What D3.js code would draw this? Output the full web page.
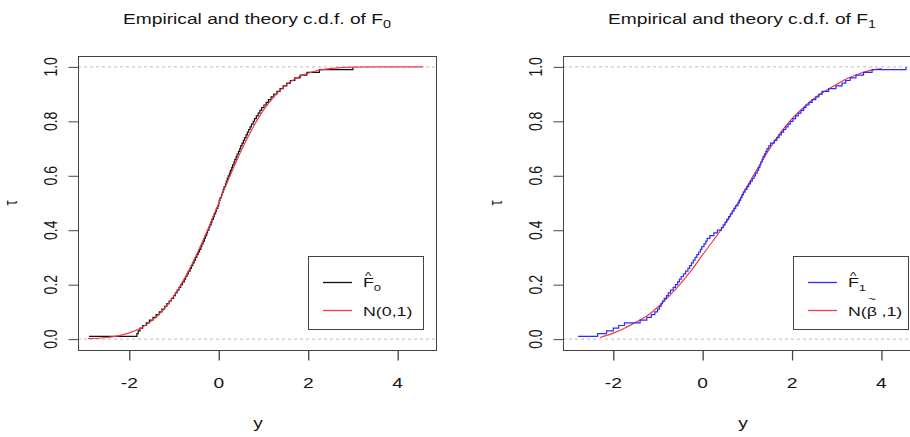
<!DOCTYPE html>
<html><head><meta charset="utf-8">
<script src="https://cdn.jsdelivr.net/npm/d3@7"></script>
<style>body{margin:0;background:#fff;overflow:hidden} text{font-family:"Liberation Sans",Arial,sans-serif;fill:#151515}</style>
</head><body><svg id="c" width="910" height="437"></svg>
<script>
// ---- data ----
const xTicks = [-2, 0, 2, 4];
const xTickLabels = ["-2", "0", "2", "4"];
const yTicks = [0, 0.2, 0.4, 0.6, 0.8, 1.0];
const yTickLabels = ["0.0", "0.2", "0.4", "0.6", "0.8", "1.0"];

// sorted sample behind empirical c.d.f. of F0 (n = 100)
const sample0 = [
 -2.90,-1.83,-1.80,-1.76,-1.70,-1.62,-1.55,-1.47,-1.40,-1.33,
 -1.27,-1.21,-1.16,-1.11,-1.06,-1.01,-0.97,-0.93,-0.89,-0.85,
 -0.81,-0.77,-0.74,-0.71,-0.68,-0.64,-0.61,-0.58,-0.55,-0.52,
 -0.49,-0.46,-0.43,-0.40,-0.38,-0.35,-0.32,-0.30,-0.27,-0.25,
 -0.22,-0.20,-0.17,-0.15,-0.12,-0.10,-0.07,-0.05,-0.02, 0.00,
  0.01, 0.03, 0.06, 0.08, 0.10, 0.12, 0.15, 0.17, 0.19, 0.21,
  0.24, 0.26, 0.29, 0.31, 0.34, 0.36, 0.39, 0.41, 0.44, 0.47,
  0.49, 0.52, 0.55, 0.58, 0.61, 0.64, 0.67, 0.70, 0.73, 0.77,
  0.80, 0.84, 0.88, 0.92, 0.96, 1.01, 1.06, 1.11, 1.17, 1.23,
  1.30, 1.37, 1.44, 1.52, 1.60, 1.70, 1.82, 1.97, 2.25, 3.00];

// sorted sample behind empirical c.d.f. of F1 (n = 100)
const sample1 = [
 -2.79,-2.35,-2.15,-2.00,-1.88,-1.75,-1.40,-1.25,-1.15,-1.07,
 -1.01,-0.97,-0.93,-0.90,-0.86,-0.81,-0.77,-0.72,-0.66,-0.61,
 -0.56,-0.52,-0.48,-0.43,-0.38,-0.33,-0.29,-0.25,-0.21,-0.17,
 -0.13,-0.09,-0.05,-0.02, 0.03, 0.07, 0.10, 0.16, 0.25, 0.33,
  0.42, 0.46, 0.50, 0.54, 0.58, 0.62, 0.66, 0.70, 0.74, 0.79,
  0.82, 0.85, 0.88, 0.91, 0.95, 0.99, 1.03, 1.07, 1.11, 1.15,
  1.18, 1.22, 1.25, 1.28, 1.30, 1.33, 1.35, 1.38, 1.41, 1.44,
  1.48, 1.52, 1.60, 1.66, 1.71, 1.76, 1.81, 1.86, 1.91, 1.96,
  2.02, 2.08, 2.14, 2.20, 2.26, 2.31, 2.38, 2.45, 2.53, 2.60,
  2.67, 2.82, 2.98, 3.12, 3.20, 3.30, 3.43, 3.60, 3.79, 4.55];

// theoretical c.d.f. N(0,1)
const theory0X = [-2.92,-2.5,-2.25,-2,-1.75,-1.5,-1.25,-1,-0.75,-0.5,-0.25,0,0.25,0.5,0.75,1,1.25,1.5,1.75,2,2.25,2.5,3,3.5,4,4.57];
const theory0P = [0.002,0.006,0.012,0.023,0.040,0.067,0.106,0.159,0.227,0.309,0.401,0.5,0.599,0.692,0.773,0.841,0.894,0.933,0.960,0.977,0.988,0.994,0.999,1.0,1.0,1.0];

// theoretical c.d.f. N(beta~,1)
const theory1X = [-2.3,-2.0,-1.75,-1.5,-1.25,-1.0,-0.75,-0.5,-0.25,0,0.25,0.5,0.75,1.0,1.25,1.5,1.75,2.0,2.25,2.5,2.75,3.0,3.25,3.5,3.75,4.0];
const theory1P = [0.006,0.022,0.040,0.062,0.085,0.118,0.158,0.203,0.253,0.310,0.365,0.423,0.490,0.563,0.633,0.700,0.760,0.810,0.850,0.885,0.912,0.936,0.958,0.975,0.987,0.994];

const panelSubs = ["0", "1"];
const ecdfColors = ["#111111", "#2b2bff"];
const theoryColor = "#f03a45";

// ---- drawing ----
const SX = 1.37; // horizontal stretch of the original raster's lettering
const svg = d3.select("#c");
svg.append("rect").attr("width", 910).attr("height", 437).attr("fill", "#fff");

function label(g, x, y, size, anchor, rot) {
  return g.append("text")
    .attr("transform", `translate(${x},${y}) scale(${SX},1)` + (rot ? " rotate(-90)" : ""))
    .attr("text-anchor", anchor).attr("font-size", size);
}

function drawPanel(k, left, right, xDomain, sample, tX, tP, withBeta) {
  const top = 56, bottom = 350;
  const x = d3.scaleLinear().domain(xDomain).range([left, right]);
  const y = d3.scaleLinear().domain([-0.04, 1.04]).range([bottom, top]);
  const g = svg.append("g");
  const clipId = "clip" + k;
  svg.append("clipPath").attr("id", clipId).append("rect")
    .attr("x", left).attr("y", top).attr("width", right - left).attr("height", bottom - top);
  const inner = g.append("g").attr("clip-path", `url(#${clipId})`);

  // reference lines at 0 and 1
  [0, 1].forEach(v => inner.append("line")
    .attr("x1", left).attr("x2", right).attr("y1", y(v)).attr("y2", y(v))
    .attr("stroke", "#bdbdbd").attr("stroke-width", 1).attr("stroke-dasharray", "3,3"));

  const n = sample.length;
  const ecdfPts = sample.map((v, i) => [v, (i + 1) / n]);
  const stepLine = d3.line().x(d => x(d[0])).y(d => y(d[1])).curve(d3.curveStepAfter);
  const smooth = d3.line().x(d => x(d[0])).y(d => y(d[1])).curve(d3.curveMonotoneX);
  const tPts = tX.map((v, i) => [v, tP[i]]);

  const drawEcdf = () => inner.append("path").attr("d", stepLine(ecdfPts))
    .attr("fill", "none").attr("stroke", ecdfColors[k]).attr("stroke-width", 1.2);
  const drawTheory = () => inner.append("path").attr("d", smooth(tPts))
    .attr("fill", "none").attr("stroke", theoryColor).attr("stroke-width", 1.2);
  if (k === 0) { drawEcdf(); drawTheory(); } else { drawTheory(); drawEcdf(); }

  // box
  g.append("rect").attr("x", left + 0.5).attr("y", top + 0.5)
    .attr("width", right - left).attr("height", bottom - top)
    .attr("fill", "none").attr("stroke", "#444").attr("stroke-width", 1);

  // x axis ticks
  const xa = d3.axisBottom(x).tickValues(xTicks).tickSize(10).tickFormat("");
  const xg = g.append("g").attr("transform", `translate(0,${bottom + 0.5})`).call(xa);
  xg.select(".domain").remove();
  xg.selectAll("line").attr("stroke", "#444").attr("stroke-width", 1.3);
  xTicks.forEach((v, i) => label(g, x(v), 388, 14, "middle", false).text(xTickLabels[i]));

  // y axis ticks (R style: rotated labels)
  const ya = d3.axisLeft(y).tickValues(yTicks).tickSize(10).tickFormat("");
  const yg = g.append("g").attr("transform", `translate(${left + 0.5},0)`).call(ya);
  yg.select(".domain").remove();
  yg.selectAll("line").attr("stroke", "#444");
  yTicks.forEach((v, i) => label(g, left - 21, y(v), 14, "middle", true).text(yTickLabels[i]));

  // axis titles
  label(g, (left + right) / 2 + 1, 428, 14, "middle", false).text("y");
  label(g, left - 61, (top + bottom) / 2, 13, "middle", true).text("τ");

  // title
  const t = label(g, (left + right) / 2, 24, 14, "middle", false);
  t.append("tspan").text("Empirical and theory c.d.f. of  F");
  t.append("tspan").attr("dy", 3.5).attr("font-size", 10.5).text(panelSubs[k]);

  // legend
  const lx = right - 128, ly = 256, lw = 115, lh = 73;
  g.append("rect").attr("x", lx + 0.5).attr("y", ly + 0.5).attr("width", lw).attr("height", lh)
    .attr("fill", "#fff").attr("stroke", "#444");
  const rows = [{c: ecdfColors[k], yy: 282}, {c: theoryColor, yy: 310}];
  rows.forEach(r => g.append("line").attr("x1", lx + 15).attr("x2", lx + 44)
    .attr("y1", r.yy + 0.5).attr("y2", r.yy + 0.5).attr("stroke", r.c).attr("stroke-width", 1.3));
  const tx = lx + 55;
  const f = label(g, tx, 287, 13, "start", false);
  f.append("tspan").text("F");
  f.append("tspan").attr("dx", -6.4).attr("dy", -7).attr("font-size", 10).text("^");
  f.append("tspan").attr("dx", 1.6).attr("dy", 11).attr("font-size", 9.5).text(panelSubs[k]);
  const nt = label(g, tx, 316, 13, "start", false);
  if (!withBeta) {
    nt.text("N(0,1)");
  } else {
    nt.append("tspan").text("N(β");
    nt.append("tspan").attr("dx", -6.6).attr("dy", -13).attr("font-size", 10).text("~");
    nt.append("tspan").attr("dx", 0.4).attr("dy", 13).text(" ,1)");
  }
}

drawPanel(0, 78, 436, [-3.146, 4.856], sample0, theory0X, theory0P, false);
drawPanel(1, 563, 921, [-3.125, 4.885], sample1, theory1X, theory1P, true);
</script></body></html>
